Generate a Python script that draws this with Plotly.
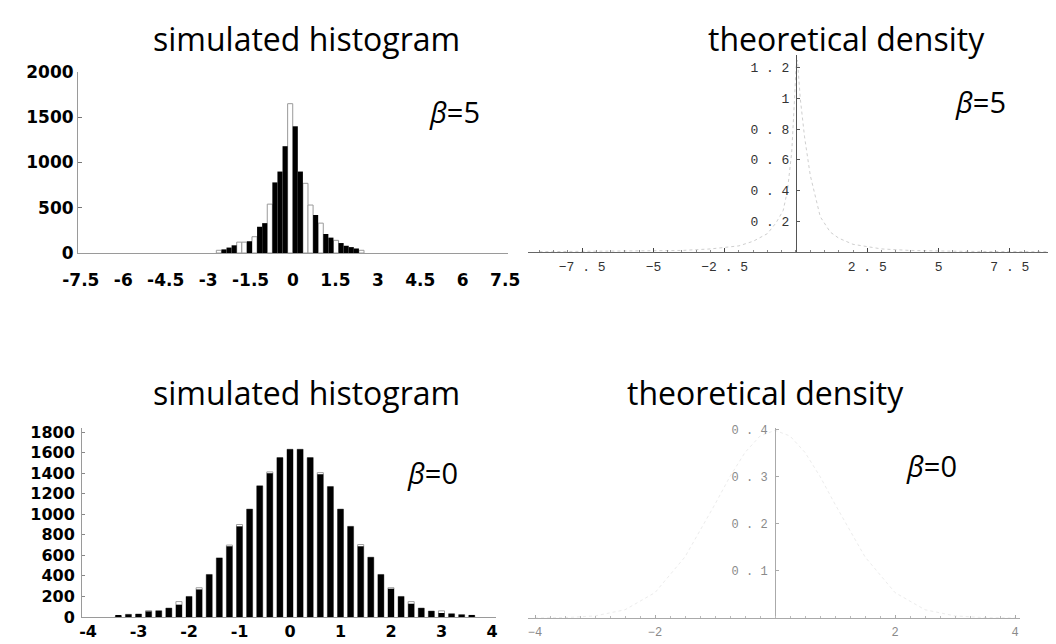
import plotly.graph_objects as go

W, H = 1056, 644

# ---------------- data ----------------
# top-left: simulated histogram, beta = 5 (black bars and white outlined bars)
tl_black_x = [-2.44, -2.26, -2.08, -1.54, -1.18, -1.00, -0.64, -0.46, -0.28, 0.08, 0.26, 0.80, 1.16, 1.34, 1.70, 1.88, 2.06, 2.24]
tl_black_y = [40, 60, 85, 130, 290, 330, 780, 900, 1180, 1400, 900, 420, 210, 170, 110, 80, 65, 50]
tl_white_x = [-2.62, -1.90, -1.72, -1.36, -0.82, -0.10, 0.44, 0.62, 0.98, 1.52, 2.42]
tl_white_y = [30, 120, 120, 180, 540, 1650, 770, 530, 330, 140, 30]
tl_xticks = [-7.5, -6, -4.5, -3, -1.5, 0, 1.5, 3, 4.5, 6, 7.5]
tl_xtick_text = ["-7.5", "-6", "-4.5", "-3", "-1.5", "0", "1.5", "3", "4.5", "6", "7.5"]
tl_yticks = [0, 500, 1000, 1500, 2000]

# top-right: theoretical density, beta = 5
tr_x = [-9, -6, -4, -3, -2, -1.5, -1, -0.7, -0.45, -0.3, -0.15, -0.05, 0, 0.05, 0.15, 0.3, 0.5, 0.85, 1.2, 1.5, 2, 3, 4, 6, 9]
tr_y = [0.002, 0.004, 0.01, 0.02, 0.04, 0.07, 0.12, 0.19, 0.27, 0.4, 0.65, 1.0, 1.2, 1.25, 1.0, 0.75, 0.5, 0.23, 0.13, 0.09, 0.05, 0.02, 0.01, 0.004, 0.002]
tr_xticks = [-7.5, -5, -2.5, 2.5, 5, 7.5]
tr_xtick_text = ["−7 . 5", "−5", "−2 . 5", "2 . 5", "5", "7 . 5"]
tr_yticks = [0.2, 0.4, 0.6, 0.8, 1.0, 1.2]
tr_ytick_text = ["0 . 2", "0 . 4", "0 . 6", "0 . 8", "1", "1 . 2"]

# bottom-left: simulated histogram, beta = 0
bl_x = [-3.4, -3.2, -3.0, -2.8, -2.6, -2.4, -2.2, -2.0, -1.8, -1.6, -1.4, -1.2,
        -1.0, -0.8, -0.6, -0.4, -0.2, 0.0, 0.2, 0.4, 0.6, 0.8, 1.0, 1.2,
        1.4, 1.6, 1.8, 2.0, 2.2, 2.4, 2.6, 2.8, 3.0, 3.2, 3.4, 3.6]
bl_black = [10, 26, 29, 55, 61, 87, 120, 200, 268, 414, 575, 688,
            882, 1050, 1276, 1399, 1551, 1632, 1632, 1551, 1390, 1270, 1050, 882,
            688, 582, 414, 275, 200, 129, 87, 58, 39, 32, 23, 16]
bl_white = [10, 26, 29, 62, 61, 87, 150, 200, 285, 414, 575, 700,
            900, 1050, 1276, 1412, 1551, 1632, 1632, 1551, 1405, 1270, 1050, 882,
            705, 582, 414, 285, 200, 150, 87, 58, 60, 32, 23, 16]
bl_xticks = [-4, -3, -2, -1, 0, 1, 2, 3, 4]
bl_xtick_text = ["-4", "-3", "-2", "-1", "0", "1", "2", "3", "4"]
bl_yticks = [0, 200, 400, 600, 800, 1000, 1200, 1400, 1600, 1800]

# bottom-right: theoretical density, beta = 0
br_x = [-4, -3.5, -3, -2.5, -2, -1.5, -1, -0.75, -0.5, -0.25, 0, 0.25, 0.5, 0.75, 1, 1.5, 2, 2.5, 3, 3.5, 4]
br_y = [0.0001, 0.0009, 0.0044, 0.0175, 0.054, 0.13, 0.242, 0.301, 0.352, 0.387, 0.399,
        0.387, 0.352, 0.301, 0.242, 0.13, 0.054, 0.0175, 0.0044, 0.0009, 0.0001]
br_xticks = [-4, -2, 2, 4]
br_xtick_text = ["−4", "−2", "2", "4"]
br_yticks = [0.1, 0.2, 0.3, 0.4]
br_ytick_text = ["0 . 1", "0 . 2", "0 . 3", "0 . 4"]

titles = ["simulated histogram", "theoretical density", "simulated histogram", "theoretical density"]
beta_labels = ["<i>β</i>=5", "<i>β</i>=5", "<i>β</i>=0", "<i>β</i>=0"]

# ---------------- layout helpers ----------------
def px(x):
    return x / W

def py(y):
    return 1 - y / H

def xdom(a, b):
    return [px(a), px(b)]

def ydom(top, bottom):
    return [py(bottom), py(top)]

SANS = "Open Sans"
BOLD = "DejaVu Sans"
MONO = "Liberation Mono"

fig = go.Figure()

fig.add_trace(go.Bar(x=tl_white_x, y=tl_white_y, width=0.18,
                     marker=dict(color="white", line=dict(color="#9a9a9a", width=1)),
                     xaxis="x", yaxis="y", showlegend=False))
fig.add_trace(go.Bar(x=tl_black_x, y=tl_black_y, width=0.18,
                     marker=dict(color="black", line=dict(width=0)),
                     xaxis="x", yaxis="y", showlegend=False))
fig.add_trace(go.Scatter(x=tr_x, y=tr_y, mode="lines",
                         line=dict(color="#cfcfcf", width=1, dash="dot"),
                         xaxis="x2", yaxis="y2", showlegend=False))
fig.add_trace(go.Bar(x=bl_x, y=bl_white, width=0.12,
                     marker=dict(color="white", line=dict(color="#a0a0a0", width=1)),
                     xaxis="x3", yaxis="y3", showlegend=False))
fig.add_trace(go.Bar(x=bl_x, y=bl_black, width=0.12,
                     marker=dict(color="black", line=dict(width=0)),
                     xaxis="x3", yaxis="y3", showlegend=False))
fig.add_trace(go.Scatter(x=br_x, y=br_y, mode="lines",
                         line=dict(color="#ececec", width=1, dash="dot"),
                         xaxis="x4", yaxis="y4", showlegend=False))

tl_xr, tl_yr = [-7.6, 7.6], [0, 2000]
tr_xr, tr_yr = [-9.40, 9.19], [0, 1.283]
bl_xr, bl_yr = [-4.12, 4.08], [0, 1839]
br_xr, br_yr = [-4.117, 4.083], [0, 0.404]

tl_xd, tl_yd = xdom(70, 500), ydom(64, 245)
tr_xd, tr_yd = xdom(520, 1050), ydom(47, 244)
bl_xd, bl_yd = xdom(74, 488), ydom(420, 609)
br_xd, br_yd = xdom(520, 1012), ydom(420, 610)

def zero_pos(dom, rng):
    return dom[0] + (0 - rng[0]) / (rng[1] - rng[0]) * (dom[1] - dom[0])

bold_font = dict(family=BOLD, size=17, color="black", weight="bold")
bold_font_b = dict(family=BOLD, size=16, color="black", weight="bold")
mono_font = dict(family=MONO, size=13, color="#333")
mono_font_light = dict(family=MONO, size=12, color="#8a8a8a")

common = dict(showgrid=False, zeroline=False, fixedrange=True, automargin=False)

fig.update_layout(
    width=W, height=H,
    margin=dict(l=0, r=0, t=0, b=0, autoexpand=False),
    paper_bgcolor="white", plot_bgcolor="white",
    barmode="overlay",
    showlegend=False,
    xaxis=dict(domain=tl_xd, range=tl_xr, anchor="y", tickmode="array",
               tickvals=tl_xticks, ticktext=tl_xtick_text, tickangle=0,
               tickfont=bold_font, showline=True, linecolor="#9a9a9a", linewidth=1,
               ticks="", ticklabelstandoff=12, **common),
    yaxis=dict(domain=tl_yd, range=tl_yr, anchor="x", tickmode="array",
               tickvals=tl_yticks, tickfont=bold_font, showline=True,
               linecolor="#9a9a9a", linewidth=1, ticks="inside", ticklen=4,
               tickcolor="#777", ticklabelstandoff=0, **common),
    xaxis2=dict(domain=tr_xd, range=tr_xr, anchor="y2", tickmode="array",
                tickvals=tr_xticks, ticktext=tr_xtick_text, tickangle=0,
                tickfont=mono_font, showline=True, linecolor="#666", linewidth=1,
                ticks="inside", ticklen=4, tickcolor="#444", ticklabelstandoff=2,
                minor=dict(dtick=0.5, ticks="inside", ticklen=2, tickcolor="#888"),
                **common),
    yaxis2=dict(domain=tr_yd, range=tr_yr, anchor="free",
                position=zero_pos(tr_xd, tr_xr), tickmode="array",
                tickvals=tr_yticks, ticktext=tr_ytick_text, tickfont=mono_font,
                showline=True, linecolor="#555", linewidth=1, ticks="inside",
                ticklen=3, tickcolor="#555", ticklabelstandoff=4, **common),
    xaxis3=dict(domain=bl_xd, range=bl_xr, anchor="y3", tickmode="array",
                tickvals=bl_xticks, ticktext=bl_xtick_text, tickangle=0,
                tickfont=bold_font_b, showline=True, linecolor="#9a9a9a", linewidth=1,
                ticks="", ticklabelstandoff=0, **common),
    yaxis3=dict(domain=bl_yd, range=bl_yr, anchor="x3", tickmode="array",
                tickvals=bl_yticks, tickfont=bold_font_b, showline=True,
                linecolor="#9a9a9a", linewidth=1, ticks="inside", ticklen=3,
                tickcolor="#888", ticklabelstandoff=3, **common),
    xaxis4=dict(domain=br_xd, range=br_xr, anchor="y4", tickmode="array",
                tickvals=br_xticks, ticktext=br_xtick_text, tickangle=0,
                tickfont=mono_font_light, showline=True, linecolor="#aaa",
                linewidth=1, ticks="inside", ticklen=3, tickcolor="#aaa",
                ticklabelstandoff=3,
                minor=dict(dtick=0.25, ticks="inside", ticklen=2, tickcolor="#bbb"),
                **common),
    yaxis4=dict(domain=br_yd, range=br_yr, anchor="free",
                position=zero_pos(br_xd, br_xr), tickmode="array",
                tickvals=br_yticks, ticktext=br_ytick_text, tickfont=mono_font_light,
                showline=True, linecolor="#aaa", linewidth=1, ticks="inside",
                ticklen=3, tickcolor="#aaa", ticklabelstandoff=5, **common),
)

title_pos = [(298, 30), (838, 30), (298, 384), (757, 384)]
beta_pos = [(446, 104), (972, 93), (424, 464), (923, 458)]
for t, (x, y) in zip(titles, title_pos):
    fig.add_annotation(text=t, x=px(x), y=py(y), xref="paper", yref="paper",
                       showarrow=False, xanchor="center", yanchor="middle",
                       font=dict(family=SANS, size=32, color="black"))
for t, (x, y) in zip(beta_labels, beta_pos):
    fig.add_annotation(text=t, x=px(x), y=py(y), xref="paper", yref="paper",
                       showarrow=False, xanchor="center", yanchor="middle",
                       font=dict(family=SANS, size=29, color="black"))

fig.write_html("out.html")
